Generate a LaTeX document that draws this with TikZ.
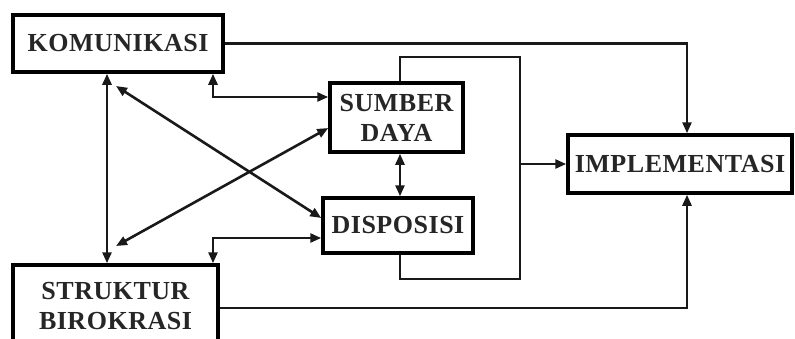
\documentclass[tikz,border=0pt]{standalone}
\usepackage{fontspec}
\setmainfont{Liberation Serif}
\usetikzlibrary{arrows.meta,calc}
\begin{document}
\begin{tikzpicture}[x=1pt,y=-1pt,
  box/.style={draw=black,line width=3.5pt,fill=white,inner sep=0pt,align=center,
    font=\fontsize{26}{30}\selectfont\bfseries\addfontfeatures{LetterSpace=2},text=black!85},
  conn/.style={line width=2.6pt,black!90},
  tip/.style={-{Triangle[length=11pt,width=9pt]}},
  tips/.style={{Triangle[length=11pt,width=9pt]}-{Triangle[length=11pt,width=9pt]}}]
\useasboundingbox (0,0) rectangle (795,338);
\node[box,minimum width=210pt,minimum height=57pt] (kom) at (118,43.5) {KOMUNIKASI};
\node[box,minimum width=133pt,minimum height=69pt] (sum) at (396.5,117.5) {SUMBER\\DAYA};
\node[box,minimum width=150pt,minimum height=55pt] (dis) at (398,225.5) {DISPOSISI};
\node[box,minimum width=224pt,minimum height=58pt] (imp) at (680,164) {IMPLEMENTASI};
\node[box,minimum width=205pt,minimum height=82pt] (str) at (115.5,306) {STRUKTUR\\BIROKRASI};
\coordinate (kd) at (116,86);
\coordinate (sd) at (116,246);
\coordinate (lt) at (520,57);
\coordinate (lb) at (520,279);
\coordinate (lm) at (520,164);
% komunikasi -> implementasi
\draw[conn,tip] (kom.east) -| ([xshift=7pt]imp.north);
% struktur -> implementasi
\draw[conn,tip] ([yshift=-2pt]str.east) -| ([xshift=7pt]imp.south);
% komunikasi <-> struktur
\draw[conn,tips] ([xshift=-11pt]kom.south) -- ([xshift=-11pt]kom.south |- str.north);
% komunikasi <-> sumber daya
\draw[conn,tips] ([xshift=95pt]kom.south) |- ([yshift=20.5pt]sum.west);
% diagonals
\draw[conn,tips] (kd) -- ([yshift=7.5pt]dis.west);
\draw[conn,tips] ([yshift=-10.5pt]sum.west) -- (sd);
% sumber <-> disposisi
\draw[conn,tips] ([xshift=3.5pt]sum.south) -- ([xshift=3.5pt]sum.south |- dis.north);
% disposisi <-> struktur
\draw[conn,tips] ([yshift=-12.5pt]dis.west) -| ([xshift=97.5pt]str.north);
% loop
\draw[conn] ([xshift=3.5pt]sum.north) |- (lt) -- (lb) -| ([xshift=2pt]dis.south);
\draw[conn,tip] (lm) -- (imp.west);
\end{tikzpicture}
\end{document}
